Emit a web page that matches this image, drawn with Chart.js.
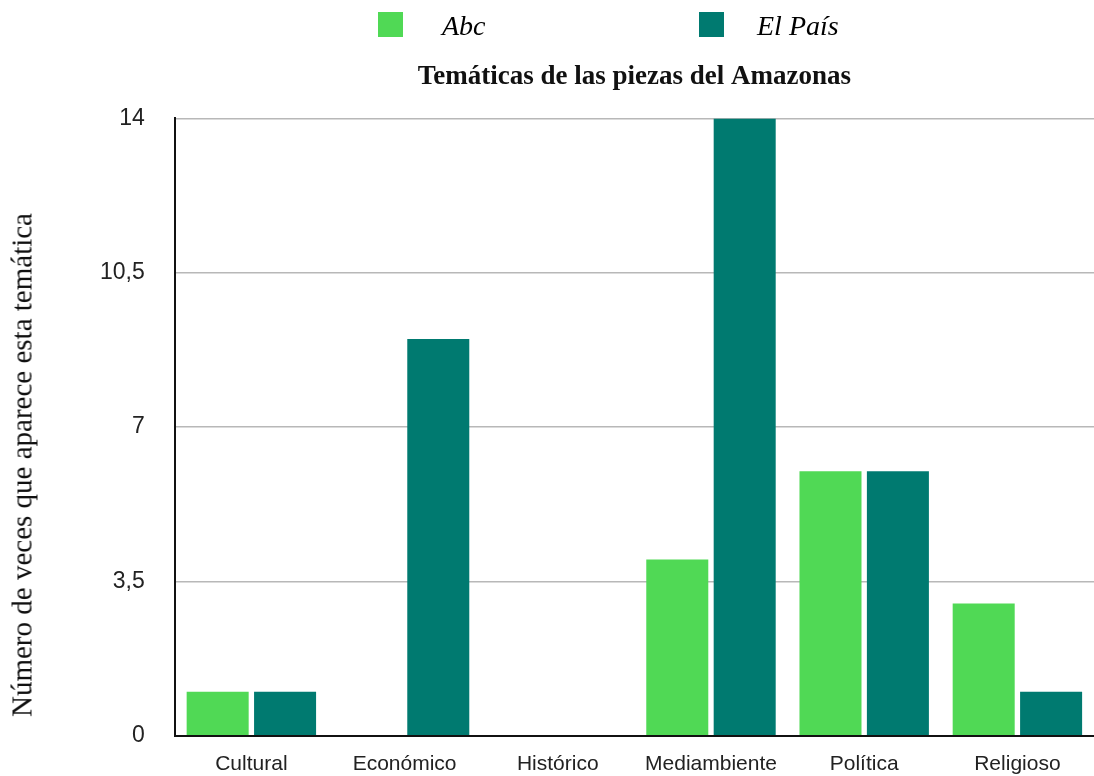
<!DOCTYPE html>
<html>
<head>
<meta charset="utf-8">
<script src="https://cdn.jsdelivr.net/npm/chart.js@4/dist/chart.umd.min.js"></script>
<style>
  html, body { margin: 0; padding: 0; background: #fff; }
  #wrap { position: relative; width: 1094px; height: 776px; overflow: hidden; }
  #legend { position: absolute; top: 12px; left: 0; width: 1094px; height: 30px; font-family: "Liberation Serif", serif; font-style: italic; font-size: 28px; }
  .item { position: absolute; top: 0; height: 26px; line-height: 26px; }
  .box { position: absolute; top: 0; left: 0; width: 25px; height: 25px; }
  .lbl { position: absolute; top: 1px; white-space: nowrap; }
  #ytitle { position: absolute; left: 22px; top: 465px; transform: translate(-50%, -50%) rotate(-90deg);
    white-space: nowrap; font-family: "Liberation Serif", serif; font-size: 29px; color: #111; }
</style>
</head>
<body>
<div id="wrap">
  <canvas id="chart" width="1094" height="780"></canvas>
  <div id="legend"></div>
  <div id="ytitle"></div>
</div>
<script>
// Datos
const categories = ['Cultural', 'Económico', 'Histórico', 'Mediambiente', 'Política', 'Religioso'];
const seriesNames = ['Abc', 'El País'];
const abcValues = [1, 0, 0, 4, 6, 3];
const elPaisValues = [1, 9, 0, 14, 6, 1];
const yTicks = [0, 3.5, 7, 10.5, 14];
const colors = ['#50d955', '#007a70'];
const yTitle = 'Número de veces que aparece esta temática';

// Leyenda en HTML (posiciones del original)
const legendPos = [{ box: 378, text: 442 }, { box: 699, text: 757 }];
const legendEl = document.getElementById('legend');
seriesNames.forEach((name, i) => {
  const item = document.createElement('div');
  item.className = 'item';
  item.style.left = legendPos[i].box + 'px';
  item.innerHTML = `<span class="box" style="background:${colors[i]}"></span>` +
    `<span class="lbl" style="left:${legendPos[i].text - legendPos[i].box}px">${name}</span>`;
  legendEl.appendChild(item);
});
document.getElementById('ytitle').textContent = yTitle;

const ctx = document.getElementById('chart').getContext('2d');
new Chart(ctx, {
  type: 'bar',
  data: {
    labels: categories,
    datasets: [
      { label: seriesNames[0], data: abcValues, backgroundColor: colors[0] },
      { label: seriesNames[1], data: elPaisValues, backgroundColor: colors[1] }
    ]
  },
  options: {
    responsive: false,
    animation: false,
    layout: { padding: { top: 61, left: 70, right: 0, bottom: -13 } },
    datasets: { bar: { categoryPercentage: 0.88, barPercentage: 0.92 } },
    plugins: {
      legend: { display: false },
      tooltip: { enabled: false },
      title: {
        display: true,
        fullSize: false,
        text: 'Temáticas de las piezas del Amazonas',
        color: '#111',
        font: { family: '"Liberation Serif", serif', size: 27, weight: 'bold' },
        padding: { top: 0, bottom: 25 }
      }
    },
    scales: {
      x: {
        grid: { display: false, drawTicks: false },
        border: { color: '#111', width: 2 },
        ticks: {
          color: '#222',
          padding: 16,
          font: { family: '"Liberation Sans", Arial, sans-serif', size: 21 }
        }
      },
      y: {
        min: 0,
        max: 14,
        afterBuildTicks: (axis) => { axis.ticks = yTicks.map(v => ({ value: v })); },
        grid: { color: '#b8b8b8', lineWidth: 1.5, drawTicks: false },
        border: { color: '#111', width: 2 },
        ticks: {
          color: '#222',
          padding: 30,
          font: { family: '"Liberation Sans", Arial, sans-serif', size: 23 },
          callback: (v) => String(v).replace('.', ',')
        }
      }
    }
  }
});
</script>
</body>
</html>
